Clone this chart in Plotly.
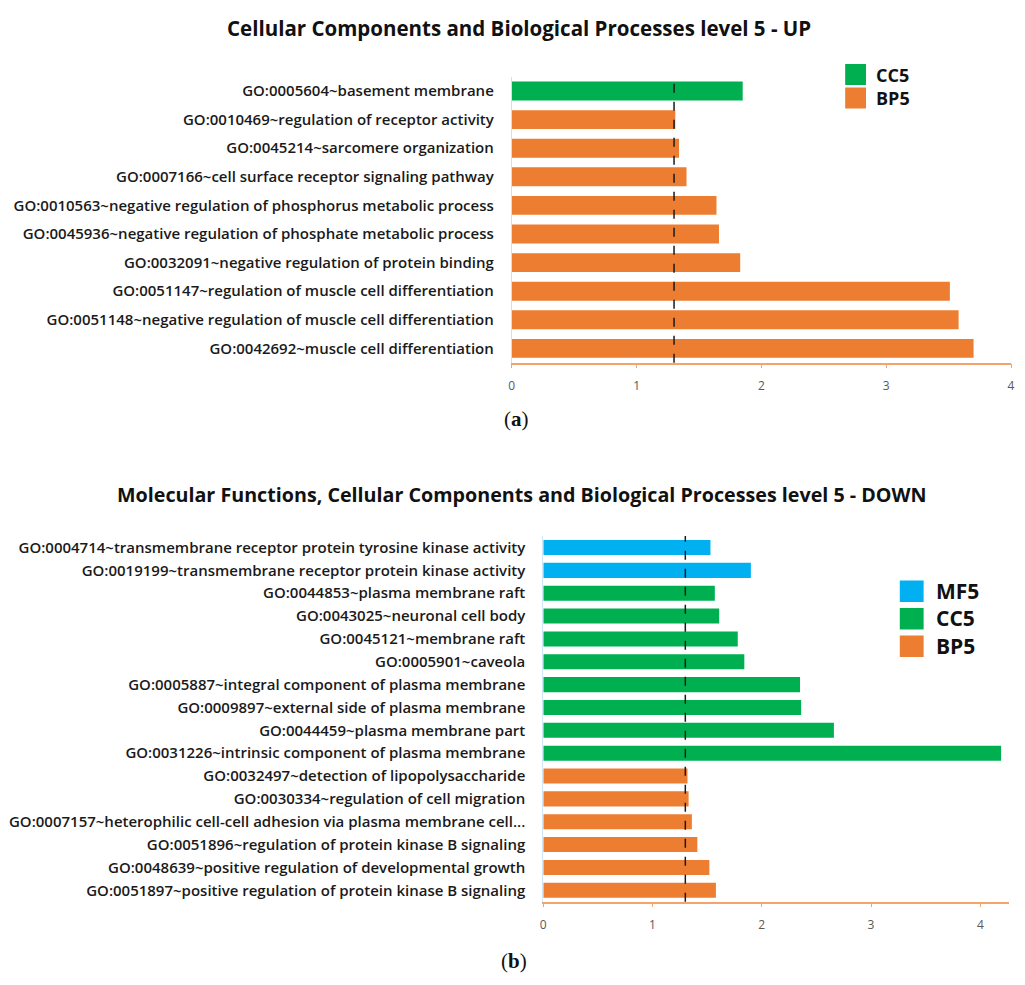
import plotly.graph_objects as go

# ---------------- data ----------------
up_terms = [
    "GO:0005604~basement membrane",
    "GO:0010469~regulation of receptor activity",
    "GO:0045214~sarcomere organization",
    "GO:0007166~cell surface receptor signaling pathway",
    "GO:0010563~negative regulation of phosphorus metabolic process",
    "GO:0045936~negative regulation of phosphate metabolic process",
    "GO:0032091~negative regulation of protein binding",
    "GO:0051147~regulation of muscle cell differentiation",
    "GO:0051148~negative regulation of muscle cell differentiation",
    "GO:0042692~muscle cell differentiation",
]
up_values = [1.85, 1.31, 1.34, 1.40, 1.64, 1.66, 1.83, 3.51, 3.58, 3.70]
up_groups = ["CC5", "BP5", "BP5", "BP5", "BP5", "BP5", "BP5", "BP5", "BP5", "BP5"]

down_terms = [
    "GO:0004714~transmembrane receptor protein tyrosine kinase activity",
    "GO:0019199~transmembrane receptor protein kinase activity",
    "GO:0044853~plasma membrane raft",
    "GO:0043025~neuronal cell body",
    "GO:0045121~membrane raft",
    "GO:0005901~caveola",
    "GO:0005887~integral component of plasma membrane",
    "GO:0009897~external side of plasma membrane",
    "GO:0044459~plasma membrane part",
    "GO:0031226~intrinsic component of plasma membrane",
    "GO:0032497~detection of lipopolysaccharide",
    "GO:0030334~regulation of cell migration",
    "GO:0007157~heterophilic cell-cell adhesion via plasma membrane cell...",
    "GO:0051896~regulation of protein kinase B signaling",
    "GO:0048639~positive regulation of developmental growth",
    "GO:0051897~positive regulation of protein kinase B signaling",
]
down_values = [1.53, 1.90, 1.57, 1.61, 1.78, 1.84, 2.35, 2.36, 2.66, 4.19,
               1.32, 1.33, 1.36, 1.41, 1.52, 1.58]
down_groups = ["MF5", "MF5", "CC5", "CC5", "CC5", "CC5", "CC5", "CC5", "CC5", "CC5",
               "BP5", "BP5", "BP5", "BP5", "BP5", "BP5"]

up_ticks = [0, 1, 2, 3, 4]
down_ticks = [0, 1, 2, 3, 4]
threshold = 1.3  # -log10(0.05)

title_up = "Cellular Components and Biological Processes level 5 - UP"
title_down = "Molecular Functions, Cellular Components and Biological Processes level 5 - DOWN"
up_legend = ["CC5", "BP5"]
down_legend = ["MF5", "CC5", "BP5"]

colors = {"MF5": "#00B0F0", "CC5": "#00B050", "BP5": "#ED7D31"}

# ---------------- figure ----------------
OFF = 8  # default page body margin
W, H = 1009, 969

def px(x):
    return min(1.0, max(0.0, (x - OFF) / W))

def py(y):
    return min(1.0, max(0.0, 1 - (y - OFF) / H))

fig = go.Figure()

label_font = dict(family="Open Sans", size=15, color="#1a1a1a", weight=600)

def add_panel(terms, values, groups, xa, ya):
    for g in ["MF5", "CC5", "BP5"]:
        ys = [t for t, gg in zip(terms, groups) if gg == g]
        xs = [v for v, gg in zip(values, groups) if gg == g]
        if not ys:
            continue
        fig.add_trace(go.Bar(x=xs, y=ys, orientation="h", name=g,
                             marker=dict(color=colors[g], line=dict(width=0)),
                             xaxis=xa, yaxis=ya, showlegend=False,
                             width=0.66))

add_panel(up_terms, up_values, up_groups, "x", "y")
add_panel(down_terms, down_values, down_groups, "x2", "y2")

axis_common = dict(
    showgrid=False, zeroline=False, showline=True, linecolor="#F4A36A", linewidth=1.5,
    ticks="outside", ticklen=4, tickcolor="#F4A36A", ticklabeloverflow="allow",
    ticklabelstandoff=7,
    tickfont=dict(family="Open Sans", size=12, color="#595959"),
)

fig.update_layout(
    width=W, height=H,
    margin=dict(l=0, r=0, t=0, b=0),
    paper_bgcolor="white", plot_bgcolor="white",
    barmode="overlay",
    showlegend=False,
    xaxis=dict(domain=[px(512.3), px(1015)], range=[0, 4], anchor="y",
               tickvals=up_ticks, **axis_common),
    yaxis=dict(domain=[py(362.7), py(76.7)], anchor="x",
               categoryorder="array", categoryarray=up_terms, autorange="reversed",
               showgrid=False, zeroline=False, showline=True, linecolor="#DDDDDD", linewidth=1,
               ticks="", ticklabelstandoff=14, tickfont=label_font),
    xaxis2=dict(domain=[px(544), px(1012.7)], range=[0, 4.26], anchor="y2",
                tickvals=down_ticks, **axis_common),
    yaxis2=dict(domain=[py(901.7), py(536.1)], anchor="x2",
                categoryorder="array", categoryarray=down_terms, autorange="reversed",
                showgrid=False, zeroline=False, showline=True, linecolor="#CFE8F5", linewidth=1,
                ticks="", ticklabelstandoff=14, tickfont=label_font),
)

# threshold dashed lines
for xr, yr in [("x", "y domain"), ("x2", "y2 domain")]:
    fig.add_shape(type="line", xref=xr, yref=yr, x0=threshold, x1=threshold, y0=0, y1=1,
                  line=dict(color="#1a1a1a", width=1.5, dash="dash"))

# titles
fig.add_annotation(text=title_up, x=px(520), y=py(28), xref="paper", yref="paper",
                   showarrow=False, xanchor="center", yanchor="middle",
                   font=dict(family="Open Sans", size=20.5, color="#111111", weight=700))
fig.add_annotation(text=title_down, x=px(523), y=py(494), xref="paper", yref="paper",
                   showarrow=False, xanchor="center", yanchor="middle",
                   font=dict(family="Open Sans", size=19.7, color="#111111", weight=700))

# panel labels
serif = dict(family="Liberation Serif", size=21, color="#111111")
fig.add_annotation(text="(<b>a</b>)", x=px(517), y=py(419), xref="paper", yref="paper",
                   showarrow=False, font=serif, xanchor="center", yanchor="middle")
fig.add_annotation(text="(<b>b</b>)", x=px(515), y=py(961), xref="paper", yref="paper",
                   showarrow=False, font=serif, xanchor="center", yanchor="middle",
                   borderpad=0)

# manual legends (colour squares + one multi-line text block)
def add_legend(names, x0, x1, tops, h, tx, fsize):
    for n, t in zip(names, tops):
        fig.add_shape(type="rect", xref="paper", yref="paper",
                      x0=px(x0), x1=px(x1), y0=py(t + h), y1=py(t),
                      fillcolor=colors[n], line=dict(width=0))
    mid = (tops[0] + tops[-1] + h) / 2
    fig.add_annotation(text="<br>".join(names), x=px(tx), y=py(mid), xref="paper", yref="paper",
                       showarrow=False, xanchor="left", yanchor="middle", align="left",
                       borderpad=0,
                       font=dict(family="Open Sans", size=fsize, color="#111111", weight=700))

add_legend(up_legend, 848, 869, [64, 87.5], 21, 878, 18)
add_legend(down_legend, 903, 927, [580.5, 608, 635.5], 21.5, 938, 21)

fig.write_html("out.html")
